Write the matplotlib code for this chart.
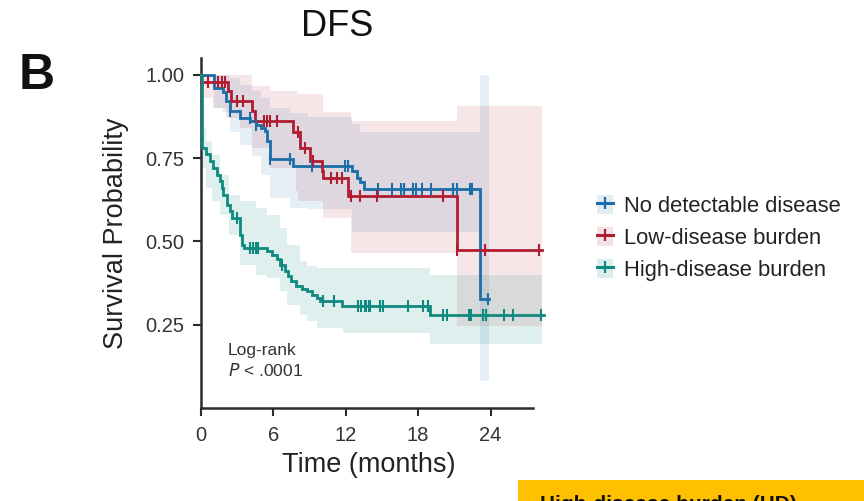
import matplotlib
matplotlib.use("Agg")
import matplotlib.pyplot as plt
from matplotlib.lines import Line2D
from matplotlib.patches import Patch, Rectangle
import numpy as np

plt.rcParams['font.family'] = ['Liberation Sans', 'DejaVu Sans']

# ---------------- data ----------------
groups = ["No detectable disease", "Low-disease burden", "High-disease burden"]
colors = ["#1b6ea8", "#b01c30", "#0f8a80"]

# Kaplan-Meier step curves (time in months, survival)
nd_t = [0, 1.1, 1.85, 2.1, 2.4, 3.2, 4.1, 4.6, 5.0, 5.3, 5.5, 5.7, 7.65, 12.5, 12.9, 13.2, 13.5, 23.1, 23.9]
nd_s = [1.0, 0.96, 0.947, 0.92, 0.89, 0.87, 0.86, 0.85, 0.84, 0.83, 0.80, 0.747, 0.727, 0.712, 0.69, 0.677, 0.657, 0.326, 0.326]
nd_cens_t = [2.4, 4.06, 4.6, 5.7, 7.4, 9.2, 11.9, 12.2, 14.7, 15.8, 16.6, 16.8, 17.6, 17.8, 18.3, 19.1, 20.9, 21.2, 22.3, 22.5, 23.8]

lo_t = [0, 2.2, 2.5, 4.2, 4.5, 7.65, 8.2, 9.0, 10.0, 10.1, 12.2, 21.2, 28.3]
lo_s = [0.977, 0.95, 0.92, 0.89, 0.862, 0.827, 0.78, 0.742, 0.712, 0.69, 0.637, 0.474, 0.474]
lo_cens_t = [0.6, 1.4, 1.7, 2.0, 2.96, 3.5, 5.2, 5.45, 5.7, 6.3, 8.0, 8.6, 9.3, 10.8, 11.25, 11.7, 12.4, 13.2, 14.6, 20.1, 21.2, 23.55, 28.0]

hi_t = [0, 0.05, 0.4, 0.75, 1.0, 1.3, 1.58, 1.7, 1.85, 2.13, 2.4, 2.55, 3.2, 3.4, 3.6, 5.45, 5.9, 6.3, 6.55, 6.95, 7.2, 7.5, 7.9, 8.35, 8.8, 9.2, 9.6, 9.9, 11.7, 19.0, 28.4]
hi_s = [1.0, 0.78, 0.762, 0.742, 0.72, 0.70, 0.68, 0.66, 0.64, 0.61, 0.59, 0.57, 0.52, 0.49, 0.481, 0.471, 0.46, 0.447, 0.43, 0.41, 0.396, 0.38, 0.366, 0.356, 0.35, 0.34, 0.331, 0.321, 0.306, 0.279, 0.279]
hi_cens_t = [2.96, 4.06, 4.34, 4.6, 4.75, 6.7, 10.1, 11.0, 13.0, 13.3, 13.6, 13.7, 13.9, 14.0, 14.8, 15.1, 17.2, 18.4, 18.85, 20.1, 20.4, 22.2, 22.4, 23.4, 23.6, 25.1, 25.9, 28.2]

# 95% confidence bands (step-post)
nd_band_t = [0, 1.1, 1.85, 2.4, 3.2, 4.2, 5.0, 5.7, 7.4, 8.9, 12.5, 13.2, 23.1, 23.9]
nd_band_lo = [1.0, 0.90, 0.887, 0.827, 0.79, 0.757, 0.70, 0.63, 0.60, 0.597, 0.527, 0.527, 0.08, 0.08]
nd_band_hi = [1.0, 1.0, 1.0, 0.99, 0.97, 0.95, 0.93, 0.90, 0.885, 0.872, 0.852, 0.827, 1.0, 1.0]

lo_band_t = [0, 1.0, 2.1, 3.2, 4.2, 5.7, 7.9, 8.0, 10.1, 12.4, 21.2, 28.3]
lo_band_lo = [0.93, 0.90, 0.87, 0.84, 0.78, 0.72, 0.65, 0.62, 0.57, 0.466, 0.246, 0.246]
lo_band_hi = [1.0, 1.0, 1.0, 1.0, 0.967, 0.95, 0.95, 0.942, 0.887, 0.862, 0.907, 0.907]

hi_band_t = [0.05, 0.4, 0.9, 1.6, 2.3, 3.2, 4.6, 5.45, 6.55, 7.1, 8.2, 8.8, 9.6, 11.8, 19.0, 28.3]
hi_band_lo = [0.72, 0.66, 0.62, 0.58, 0.52, 0.43, 0.40, 0.39, 0.35, 0.31, 0.28, 0.26, 0.24, 0.226, 0.193, 0.193]
hi_band_hi = [0.84, 0.80, 0.76, 0.70, 0.64, 0.62, 0.60, 0.58, 0.54, 0.49, 0.44, 0.427, 0.42, 0.42, 0.40, 0.40]

x_ticks = [0, 6, 12, 18, 24]
y_ticks = [0.25, 0.50, 0.75, 1.00]

# ---------------- figure ----------------
W, H = 864, 501
fig = plt.figure(figsize=(W / 100, H / 100), dpi=100)
ax = fig.add_axes([201 / W, (H - 408) / H, (546 - 201) / W, (408 - 58) / H])
ax.set_xlim(0, 28.6)
ax.set_ylim(0, 1.05)

curves = [
    (nd_t, nd_s, nd_cens_t, nd_band_t, nd_band_lo, nd_band_hi),
    (lo_t, lo_s, lo_cens_t, lo_band_t, lo_band_lo, lo_band_hi),
    (hi_t, hi_s, hi_cens_t, hi_band_t, hi_band_lo, hi_band_hi),
]
band_alpha = [0.11, 0.11, 0.13]

for (t, s, ct, bt, blo, bhi), col, ba in zip(curves, colors, band_alpha):
    ax.fill_between(bt, blo, bhi, step="post", color=col, alpha=ba, lw=0, clip_on=False, zorder=1)

for (t, s, ct, bt, blo, bhi), col in zip(curves, colors):
    ax.plot(t, s, drawstyle="steps-post", color=col, lw=2.0, clip_on=False, zorder=3,
            solid_joinstyle="miter")
    ta = np.array(t)
    sa = np.array(s)
    idx = np.searchsorted(ta, ct, side="right") - 1
    ax.plot(ct, sa[idx], ls="none", marker="|", ms=9, mew=1.5, color=col, clip_on=False, zorder=4)

for side in ["top", "right"]:
    ax.spines[side].set_visible(False)
for side in ["left", "bottom"]:
    ax.spines[side].set_linewidth(1.8)
    ax.spines[side].set_color("#2b2b2b")
ax.spines["bottom"].set_bounds(0, 27.5)

ax.set_xticks(x_ticks)
ax.set_xticklabels([str(v) for v in x_ticks])
ax.set_yticks(y_ticks)
ax.set_yticklabels([f"{v:.2f}" for v in y_ticks])
ax.tick_params(axis="both", direction="out", length=6, width=1.5, color="#2b2b2b",
               labelsize=14.5, labelcolor="#333333")
ax.tick_params(axis="x", pad=7)
ax.tick_params(axis="y", pad=6)

ax.set_xlabel("Time (months)", fontsize=19.5, color="#222222", labelpad=12)
ax.xaxis.set_label_coords(0.485, -0.125)
ax.set_ylabel("Survival Probability", fontsize=19.5, color="#222222", labelpad=12)

ax.text(2.2, 0.174, "Log-rank", fontsize=12.5, color="#333333", va="center",
        transform=ax.transData)
ax.text(2.2, 0.111, r"$P$" + " < .0001", fontsize=12.5, color="#333333", va="center",
        transform=ax.transData)

# legend
handles = []
for col, ba in zip(colors, band_alpha):
    handles.append((Patch(facecolor=col, alpha=ba + 0.02, edgecolor="none"),
                    Line2D([], [], color=col, lw=2.2, marker="|", ms=8, mew=1.6)))
leg = fig.legend(handles, groups, loc="upper left", bbox_to_anchor=(588 / W, 1 - 186 / H),
                 borderaxespad=0, frameon=False, fontsize=15.8, handlelength=0.75,
                 handleheight=1.0, handletextpad=0.5, labelspacing=0.44, labelcolor="#222222")

# titles / labels
fig.text(337 / W, 1 - 27 / H, "DFS", fontsize=26, ha="center", va="center", color="#111111")
fig.text(37 / W, 1 - 76 / H, "B", fontsize=36, fontweight="bold", ha="center", va="center",
         color="#111111")

# yellow box at bottom right
fig.patches.append(Rectangle((518 / W, 0), (W - 518) / W, 21 / H, transform=fig.transFigure,
                             facecolor="#FFC000", edgecolor="none"))
fig.text(540 / W, 1 - 495 / H, "High-disease burden (HD)", fontsize=15, fontweight="bold",
         ha="left", va="top", color="#111111")

fig.savefig("out.png", dpi=100)
